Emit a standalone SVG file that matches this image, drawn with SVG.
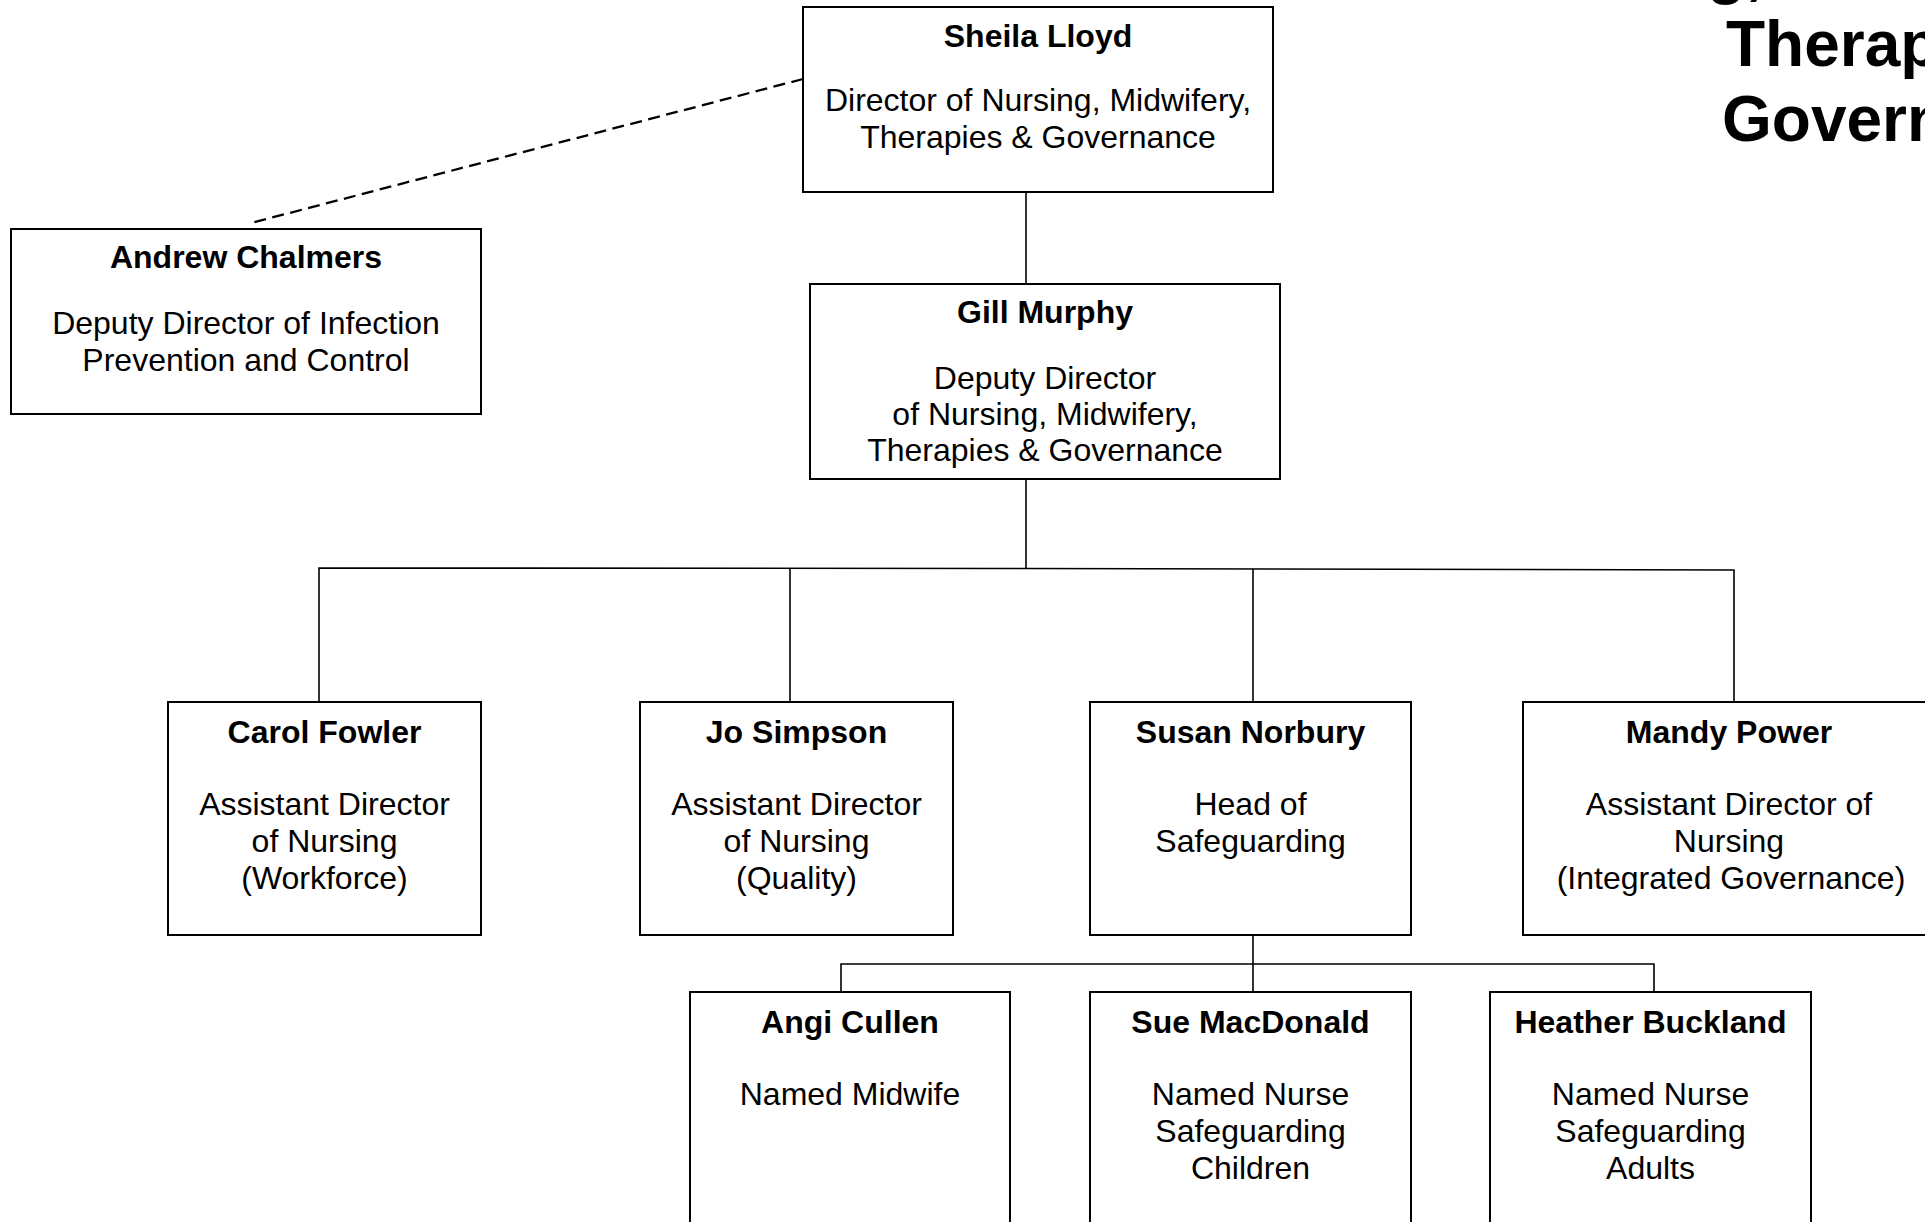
<svg xmlns="http://www.w3.org/2000/svg" width="1925" height="1222" viewBox="0 0 1925 1222">
<style>
.box{fill:#fff;stroke:#000;stroke-width:2}
.ln{fill:none;stroke:#000;stroke-width:1.6}
.dash{fill:none;stroke:#000;stroke-width:2.3;stroke-dasharray:12 6.5}
text{font-family:"Liberation Sans",Arial,sans-serif;font-size:32px;fill:#000;text-anchor:middle}
.nm{font-weight:bold}
.title{font-weight:bold;font-size:64px;text-anchor:start}
</style>
<rect width="1925" height="1222" fill="#fff"/>
<g id="title">
<text class="title" x="1504" y="-8">Nursing, Midwifery,</text>
<text class="title" x="1726" y="66">Therapies &amp;</text>
<text class="title" x="1722" y="141">Governance</text>
</g>
<g id="connectors">
<line class="dash" x1="803" y1="79" x2="251" y2="223"/>
<line class="ln" x1="1026" y1="192" x2="1026" y2="284"/>
<line class="ln" x1="1026" y1="479" x2="1026" y2="569"/>
<polyline class="ln" points="319,702 319,568 1026,568.5 1734,570 1734,702"/>
<line class="ln" x1="790" y1="568" x2="790" y2="702"/>
<line class="ln" x1="1253" y1="569" x2="1253" y2="702"/>
<line class="ln" x1="1253" y1="936" x2="1253" y2="992"/>
<polyline class="ln" points="841,992 841,964 1654,964 1654,992"/>
</g>
<g id="sheila">
<rect class="box" x="803" y="7" width="470" height="185"/>
<text class="nm" x="1038" y="47">Sheila Lloyd</text>
<text x="1038" y="111">Director of Nursing, Midwifery,</text>
<text x="1038" y="148">Therapies &amp; Governance</text>
</g>
<g id="andrew">
<rect class="box" x="11" y="229" width="470" height="185"/>
<text class="nm" x="246" y="268">Andrew Chalmers</text>
<text x="246" y="334">Deputy Director of Infection</text>
<text x="246" y="371">Prevention and Control</text>
</g>
<g id="gill">
<rect class="box" x="810" y="284" width="470" height="195"/>
<text class="nm" x="1045" y="323">Gill Murphy</text>
<text x="1045" y="389">Deputy Director</text>
<text x="1045" y="425">of Nursing, Midwifery,</text>
<text x="1045" y="461">Therapies &amp; Governance</text>
</g>
<g id="carol">
<rect class="box" x="168" y="702" width="313" height="233"/>
<text class="nm" x="324.5" y="743">Carol Fowler</text>
<text x="324.5" y="815">Assistant Director</text>
<text x="324.5" y="852">of Nursing</text>
<text x="324.5" y="889">(Workforce)</text>
</g>
<g id="jo">
<rect class="box" x="640" y="702" width="313" height="233"/>
<text class="nm" x="796.5" y="743">Jo Simpson</text>
<text x="796.5" y="815">Assistant Director</text>
<text x="796.5" y="852">of Nursing</text>
<text x="796.5" y="889">(Quality)</text>
</g>
<g id="susan">
<rect class="box" x="1090" y="702" width="321" height="233"/>
<text class="nm" x="1250.5" y="743">Susan Norbury</text>
<text x="1250.5" y="815">Head of</text>
<text x="1250.5" y="852">Safeguarding</text>
</g>
<g id="mandy">
<rect class="box" x="1523" y="702" width="414" height="233"/>
<text class="nm" x="1729" y="743">Mandy Power</text>
<text x="1729" y="815">Assistant Director of</text>
<text x="1729" y="852">Nursing</text>
<text x="1731" y="889">(Integrated Governance)</text>
</g>
<g id="angi">
<rect class="box" x="690" y="992" width="320" height="250"/>
<text class="nm" x="850" y="1033">Angi Cullen</text>
<text x="850" y="1105">Named Midwife</text>
</g>
<g id="sue">
<rect class="box" x="1090" y="992" width="321" height="250"/>
<text class="nm" x="1250.5" y="1033">Sue MacDonald</text>
<text x="1250.5" y="1105">Named Nurse</text>
<text x="1250.5" y="1142">Safeguarding</text>
<text x="1250.5" y="1179">Children</text>
</g>
<g id="heather">
<rect class="box" x="1490" y="992" width="321" height="250"/>
<text class="nm" x="1650.5" y="1033">Heather Buckland</text>
<text x="1650.5" y="1105">Named Nurse</text>
<text x="1650.5" y="1142">Safeguarding</text>
<text x="1650.5" y="1179">Adults</text>
</g>
</svg>
